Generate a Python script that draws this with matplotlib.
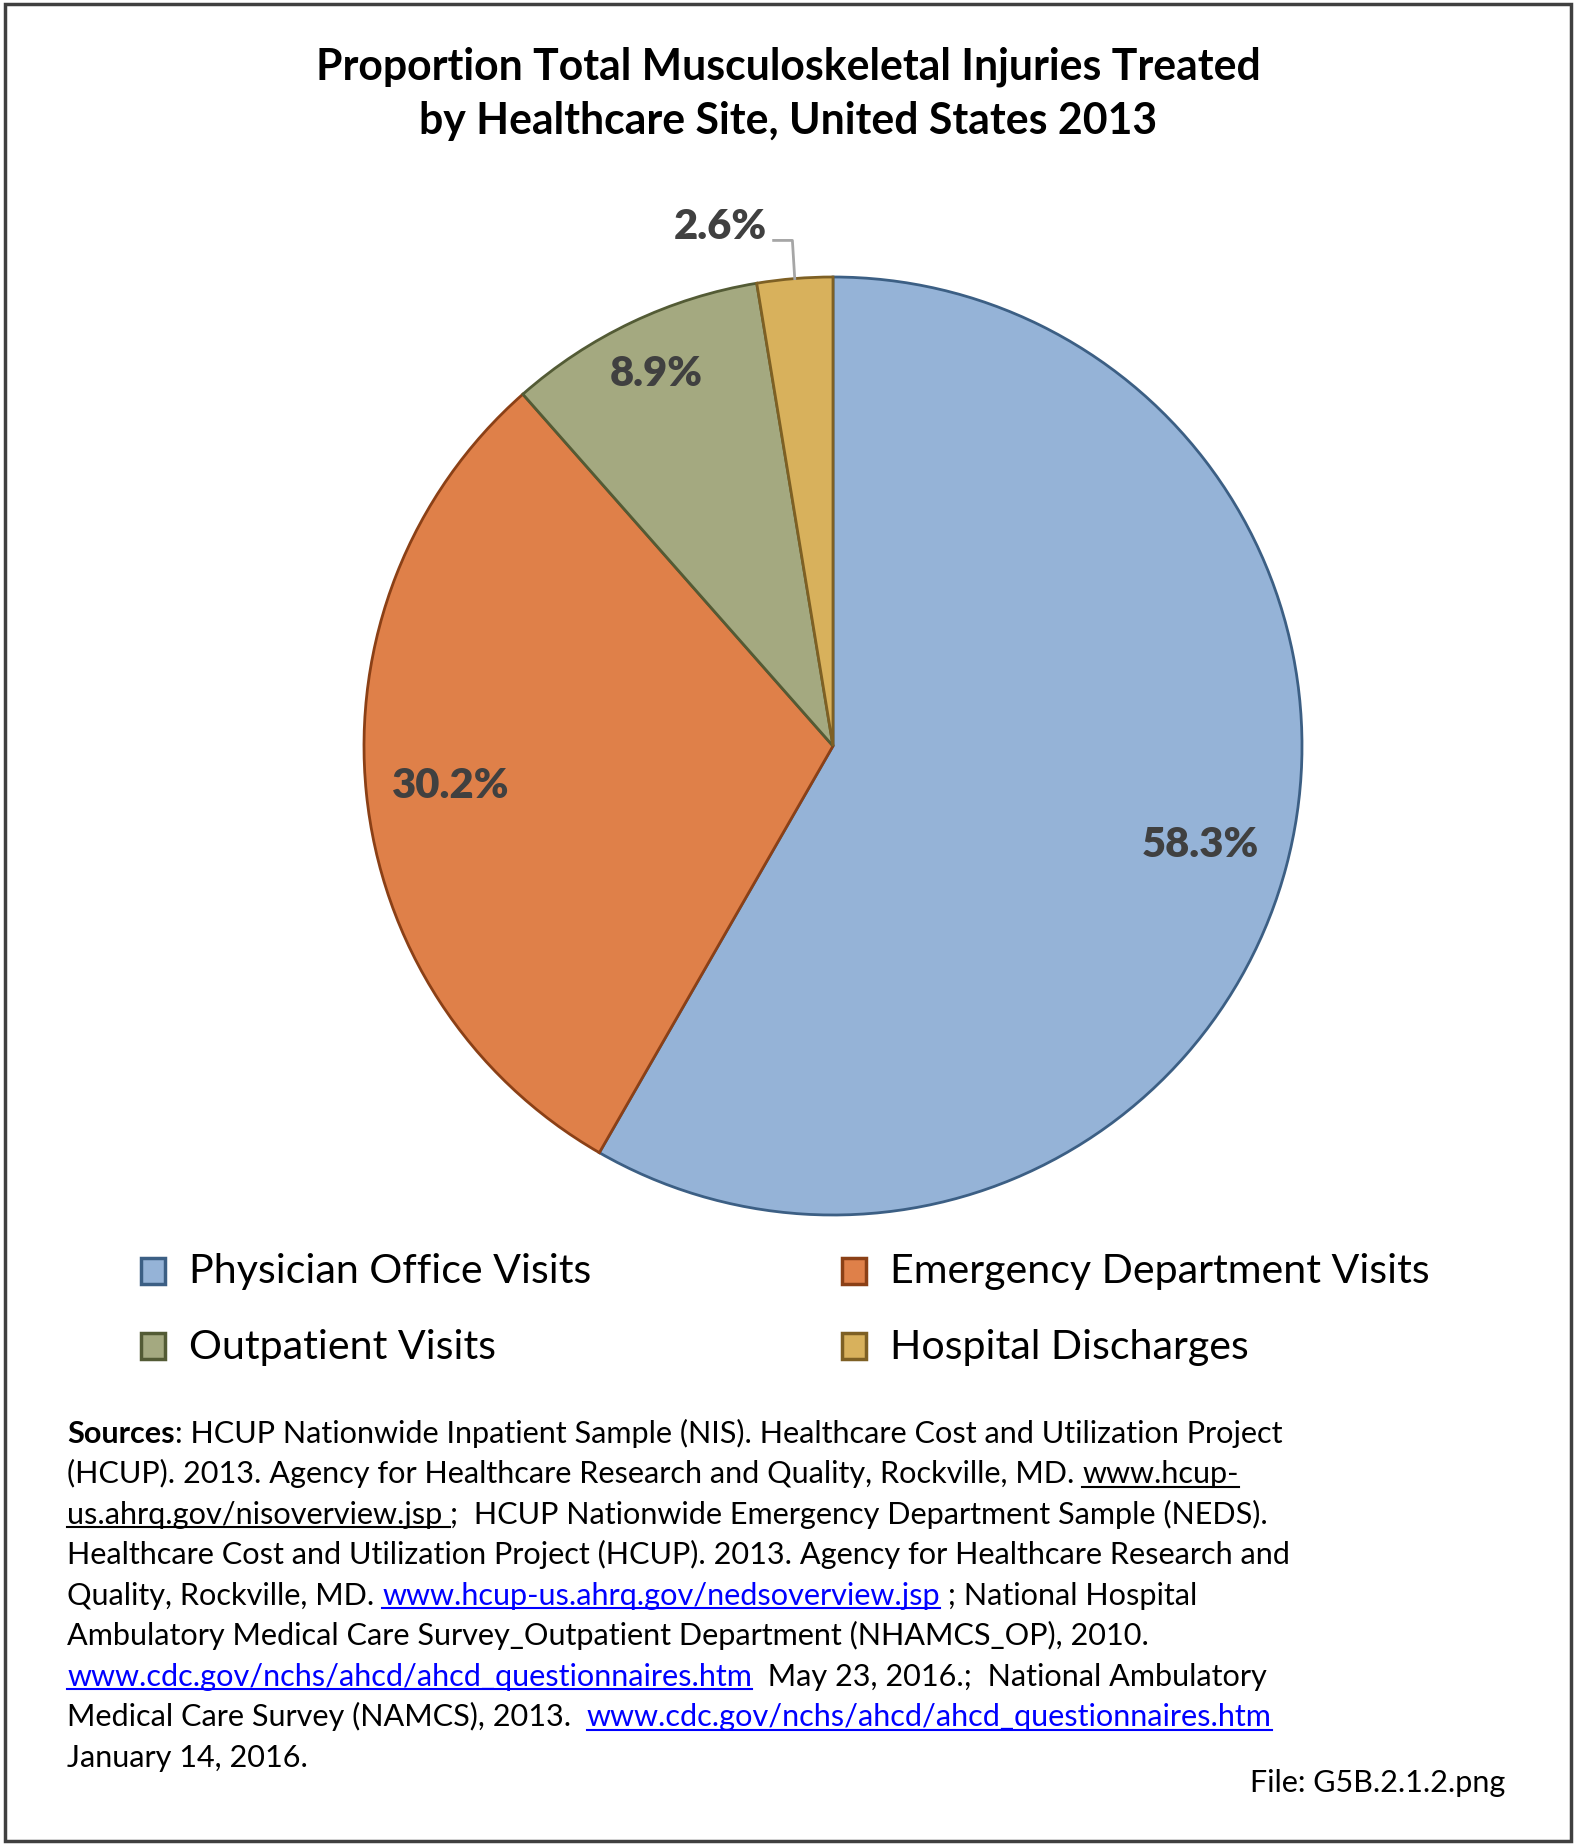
import numpy as np
import matplotlib.pyplot as plt
from matplotlib.patches import Rectangle
from matplotlib.lines import Line2D

plt.rcParams['font.family'] = ['Lato', 'DejaVu Sans']

W, H = 1579, 1849

title_lines = ['Proportion Total Musculoskeletal Injuries Treated',
               'by Healthcare Site, United States 2013']
sites = ['Physician Office Visits', 'Emergency Department Visits',
         'Outpatient Visits', 'Hospital Discharges']
shares = [58.3, 30.2, 8.9, 2.6]
fills = ['#95B3D7', '#DF8049', '#A4A980', '#D8B15C']
edges = ['#3C5F84', '#8B4016', '#535B35', '#7E6024']

# (text, style) segments for each line of the source note
sources = [
    [('Sources', 'bold'), (': HCUP Nationwide Inpatient Sample (NIS). Healthcare Cost and Utilization Project', 'plain')],
    [('(HCUP). 2013. Agency for Healthcare Research and Quality, Rockville, MD. ', 'plain'), ('www.hcup-', 'under')],
    [('us.ahrq.gov/nisoverview.jsp ', 'under'), (';  HCUP Nationwide Emergency Department Sample (NEDS).', 'plain')],
    [('Healthcare Cost and Utilization Project (HCUP). 2013. Agency for Healthcare Research and', 'plain')],
    [('Quality, Rockville, MD. ', 'plain'), ('www.hcup-us.ahrq.gov/nedsoverview.jsp', 'link'), (' ; National Hospital', 'plain')],
    [('Ambulatory Medical Care Survey_Outpatient Department (NHAMCS_OP), 2010.', 'plain')],
    [('www.cdc.gov/nchs/ahcd/ahcd_questionnaires.htm', 'link'), ('  May 23, 2016.;  National Ambulatory', 'plain')],
    [('Medical Care Survey (NAMCS), 2013.  ', 'plain'), ('www.cdc.gov/nchs/ahcd/ahcd_questionnaires.htm', 'link')],
    [('January 14, 2016.', 'plain')],
]
file_note = 'File: G5B.2.1.2.png'


def fx(px):
    return px / W


def fy(py):
    # pixel rows counted from the top
    return 1 - py / H


fig = plt.figure(figsize=(W / 100, H / 100), dpi=100)

# outer frame
fig.patches.append(Rectangle((fx(5), fy(1842)), fx(1566), (1837) / H, transform=fig.transFigure,
                             fill=False, edgecolor='#404040', linewidth=2.5))

# title
fig.text(fx(788), fy(67), title_lines[0], ha='center', va='center', fontsize=30.8, fontweight='bold')
fig.text(fx(788), fy(121), title_lines[1], ha='center', va='center', fontsize=30.8, fontweight='bold')

# pie
cx, cy, R = 833, 747, 469
ax = fig.add_axes([fx(cx - R), fy(cy + R), 2 * R / W, 2 * R / H])
wedges, _ = ax.pie(shares, colors=fills, startangle=90, counterclock=False, radius=1,
                   wedgeprops=dict(linewidth=2))
for w, e in zip(wedges, edges):
    w.set_edgecolor(e)
    w.set_clip_on(False)
ax.set_xlim(-1, 1)
ax.set_ylim(-1, 1)
ax.axis('off')

label_dist = [0.81, 0.82, 0.88]
for i, w in enumerate(wedges):
    mid = np.deg2rad((w.theta1 + w.theta2) / 2)
    txt = f'{shares[i]:.1f}%'
    if i < 3:
        ax.text(label_dist[i] * np.cos(mid), label_dist[i] * np.sin(mid), txt, ha='center', va='center',
                fontsize=30, fontweight='heavy', color='#404040')
    else:
        # small slice: label outside with a leader line
        x0, y0 = np.cos(mid), np.sin(mid)
        ax.add_line(Line2D([x0, x0 - 0.005, x0 - 0.045], [y0, 1.078, 1.078], color='#A6A6A6',
                           linewidth=2, clip_on=False))
        ax.text(x0 - 0.06, 1.108, txt, ha='right', va='center', fontsize=30, fontweight='heavy',
                color='#404040', clip_on=False)

# legend
for i, (lab, fc, ec) in enumerate(zip(sites, fills, edges)):
    row, col = divmod(i, 2)
    mx = [153, 854][col]
    my = [1272, 1347][row]
    fig.patches.append(Rectangle((fx(mx - 12), fy(my + 13)), 24 / W, 26 / H, transform=fig.transFigure,
                                 facecolor=fc, edgecolor=ec, linewidth=2.5))
    fig.text(fx(mx + 36), fy(my), lab, ha='left', va='center', fontsize=29.6)

# source note
renderer = fig.canvas.get_renderer()
styles = {'plain': ('black', 'normal', False), 'bold': ('black', 'bold', False),
          'under': ('black', 'normal', True), 'link': ('#0000FF', 'normal', True)}
base0, step = 1443, 40.5
for n, line in enumerate(sources):
    x = 67
    yb = base0 + n * step
    for seg, st in line:
        color, weight, underline = styles[st]
        t = fig.text(fx(x), fy(yb), seg, ha='left', va='baseline', fontsize=22.1, fontweight=weight, color=color)
        wpx = t.get_window_extent(renderer=renderer).width
        if underline:
            fig.add_artist(Line2D([fx(x), fx(x + wpx)], [fy(yb + 4), fy(yb + 4)], color=color,
                                  linewidth=1.5, transform=fig.transFigure))
        x += wpx

fig.text(fx(1505), fy(1792), file_note, ha='right', va='baseline', fontsize=22)

fig.savefig('out.png', dpi=100)
